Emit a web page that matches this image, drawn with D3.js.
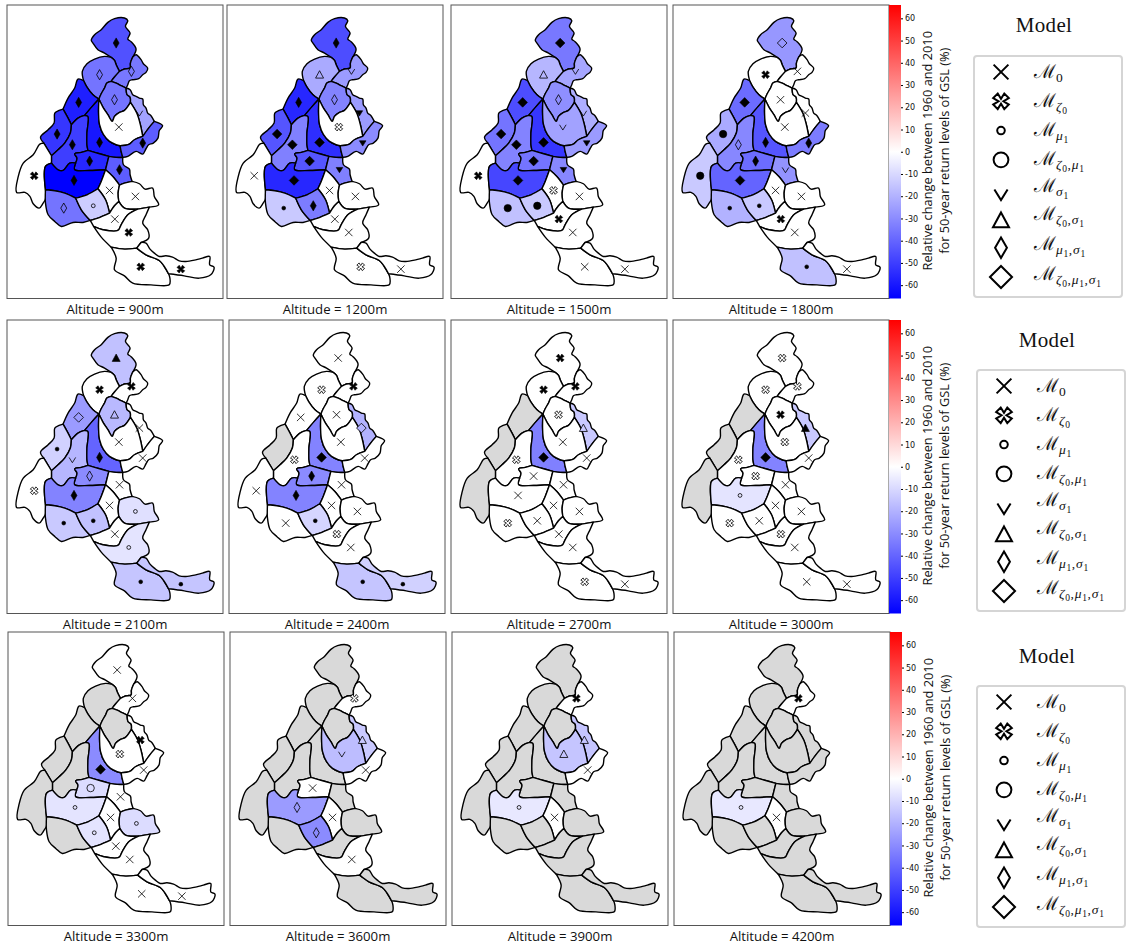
<!DOCTYPE html>
<html>
<head>
<meta charset="utf-8">
<style>
	body { margin: 0; background: #fff; }
	svg { display: block; }
	text { fill: #111; }
</style>
<script src="https://cdn.jsdelivr.net/npm/d3@7"></script>
</head>
<body>
<div id="res"></div>
<script>
/* massif borders, in map units, each shared border is stored once */
var borders = {
	chabFree: [[335,173],[315,160],[295,150],[280,130],[275,122],[285,105],[305,90],[325,68],[345,57],[375,55],[385,63],[378,80],[392,100],[385,118],[395,126],[410,148],[400,172]],
	chabAra: [[335,173],[345,182],[350,195],[360,215]],
	chabMb: [[400,172],[393,190],[392,205],[375,208],[360,215]],
	araFree: [[252,243],[248,215],[262,192],[285,178],[315,170],[335,173]],
	araBau: [[252,243],[262,262],[280,285],[298,298]],
	araMb: [[360,215],[345,232],[335,245]],
	araBea: [[335,245],[322,250],[315,265],[305,282],[298,298]],
	mbFree: [[400,172],[410,165],[425,180],[432,192],[445,205],[440,218],[430,225],[418,237],[400,240],[390,243],[385,255],[380,265]],
	mbBea: [[335,245],[350,250],[365,258],[380,265]],
	beaHt: [[380,265],[383,285],[392,292],[393,308]],
	beaVan: [[298,298],[310,322],[325,345],[338,365],[345,350],[360,338],[375,332],[393,308]],
	htFree: [[380,265],[392,270],[400,285],[410,290],[420,295],[430,298],[432,315],[440,325],[445,340],[455,348],[465,365]],
	htVan: [[393,308],[412,340],[423,375],[430,410]],
	htHm: [[465,365],[448,385],[430,410]],
	hmFree: [[465,365],[490,378],[480,392],[476,415],[462,430],[448,435],[440,447],[430,463],[410,455],[385,470],[370,473]],
	hmVan: [[430,410],[405,420],[388,434],[362,438]],
	hmMau: [[362,438],[365,455],[370,473]],
	vanMau: [[298,298],[297,340],[300,375],[312,405],[330,425],[350,435],[362,438]],
	bauMau: [[298,298],[278,320],[255,347]],
	belMau: [[255,347],[265,350],[262,400],[262,435],[265,452]],
	bauBel: [[255,347],[235,355],[215,375]],
	bauFree: [[252,243],[235,238],[225,265],[205,295],[190,328]],
	bauCha: [[190,328],[205,355],[215,375]],
	chaFree: [[190,328],[178,332],[165,340],[163,370],[145,390],[122,412],[132,430]],
	chaVer: [[132,430],[155,468]],
	chaBel: [[215,375],[212,400],[195,430],[175,450],[155,468]],
	belVer: [[155,468],[155,490]],
	belOis: [[155,490],[175,510],[190,512],[210,490],[228,490]],
	belGr: [[228,490],[232,475],[225,462],[245,458],[265,452]],
	grOis: [[228,490],[225,510],[270,512],[318,510]],
	grMau: [[265,452],[300,462],[328,470]],
	grTha: [[328,470],[318,510]],
	mauTha: [[328,470],[350,473],[370,473]],
	thaFree: [[370,473],[372,495],[390,508],[392,525],[398,545]],
	thaPel: [[318,510],[340,530],[360,556]],
	thaQue: [[360,556],[375,550],[398,545]],
	queFree: [[398,545],[420,552],[437,568],[460,565],[465,590],[478,615],[450,622]],
	queUby: [[415,628],[450,622]],
	quePar: [[358,605],[375,625],[415,628]],
	quePel: [[360,556],[356,580],[358,605]],
	pelPar: [[358,605],[345,618],[330,640]],
	pelCha: [[295,567],[318,600],[330,640]],
	pelOis: [[318,510],[305,545],[295,567]],
	oisCha: [[295,567],[262,585],[228,595]],
	oisDev: [[228,595],[195,580],[165,573],[137,570]],
	oisVer: [[155,490],[137,500],[137,570]],
	verFree: [[132,430],[120,433],[100,465],[70,490],[55,530],[50,578],[75,578],[90,590],[100,612],[118,625],[130,610],[137,598],[137,570]],
	devFree: [[137,570],[137,610],[145,645],[165,665],[185,680],[220,668],[250,668],[272,662]],
	devCha: [[228,595],[245,630],[272,662]],
	chaPar: [[272,662],[295,655],[330,640]],
	parFree: [[272,662],[282,680]],
	parUby: [[282,680],[310,690],[355,692],[365,675],[385,645],[415,628]],
	ubyFreeN: [[450,622],[440,645],[430,670],[445,690],[448,715],[425,728]],
	ubyFreeS: [[282,680],[305,712],[335,742]],
	ubyHv: [[335,742],[375,748],[412,745]],
	ubyMer: [[425,728],[412,745]],
	hvFree: [[335,742],[350,775],[345,810],[375,828],[400,850],[455,855],[510,855],[512,835],[508,822]],
	hvMer: [[412,745],[440,765],[480,782],[495,800],[508,822]],
	merFree: [[425,728],[440,730],[452,748],[465,760],[480,770],[500,768],[520,772],[540,783],[560,785],[590,780],[610,775],[632,770],[632,795],[645,802],[635,825],[600,835],[555,828],[508,822]]
};

var massifs = ["Chablais","Aravis","Mont-Blanc","Bauges","Beaufortain","Haute-Tarentaise","Chartreuse","Belledonne","Maurienne","Vanoise","Haute-Maurienne","Grandes-Rousses","Thabor","Vercors","Oisans","Pelvoux","Queyras","Devoluy","Champsaur","Parpaillon","Ubaye","Haut-Var","Mercantour"];

/* borders walked around each massif, "-" means walked backwards */
var massifRings = [
	["chabFree","chabMb","-chabAra"],
	["araFree","chabAra","araMb","araBea","-araBau"],
	["mbFree","-mbBea","-araMb","-chabMb"],
	["bauFree","bauCha","-bauBel","-bauMau","-araBau"],
	["-araBea","mbBea","beaHt","-beaVan"],
	["htFree","htHm","-htVan","-beaHt"],
	["chaFree","chaVer","-chaBel","-bauCha"],
	["bauBel","chaBel","belVer","belOis","belGr","-belMau"],
	["bauMau","belMau","grMau","mauTha","-hmMau","-vanMau"],
	["beaVan","htVan","hmVan","-vanMau"],
	["-htHm","hmFree","-hmMau","-hmVan"],
	["-belGr","grOis","-grTha","-grMau"],
	["mauTha","thaFree","-thaQue","-thaPel","-grTha"],
	["verFree","-oisVer","-belVer","-chaVer"],
	["oisVer","-oisDev","-oisCha","-pelOis","-grOis","-belOis"],
	["thaPel","quePel","pelPar","-pelCha","-pelOis"],
	["thaQue","queFree","-queUby","-quePar","-quePel"],
	["devFree","-devCha","oisDev"],
	["oisCha","devCha","chaPar","-pelCha"],
	["-chaPar","parFree","parUby","-quePar","pelPar"],
	["-parUby","ubyFreeS","ubyHv","-ubyMer","-ubyFreeN","-queUby"],
	["-ubyHv","hvFree","-hvMer"],
	["merFree","-hvMer","-ubyMer"]
];

var markerX = [350,300,396,237,345,420,172,218,300,358,430,270,360,103,223,330,408,192,281,346,388,424,545];
var markerY = [130,225,215,308,300,340,403,435,428,382,430,484,510,528,542,572,590,625,618,658,698,801,808];

var altitudes = [900,1200,1500,1800,2100,2400,2700,3000,3300,3600,3900,4200];

/* relative change in % per massif, null when the massif has no data (grey) */
var changes = [
	[-45,-36,-35,-58,-36,-24,-52,-50,-60,0,-42,-56,-42,0,-66,0,0,-36,-13,0,0,0,0],
	[-46,-22,-26,-56,-32,-26,-44,-33,-54,0,-30,-44,-33,0,-56,0,0,-14,-34,0,0,0,0],
	[-35,-19,-23,-46,-29,-21,-36,-32,-52,-24,-26,-36,-31,0,-48,0,0,-16,-14,0,0,0,0],
	[-27,0,0,-38,0,0,-22,-31,-44,0,-34,-38,-28,-14,-40,0,0,-20,-14,0,0,-16,0],
	[-16,0,0,-26,-18,0,-12,-19,-40,0,0,-30,0,0,-32,0,-8,-14,-16,0,-7,-15,-15],
	[0,0,0,0,0,-20,null,0,-32,0,0,-30,0,0,-32,0,0,0,-11,0,0,-15,-12],
	[0,0,0,null,0,-14,null,0,-33,0,0,0,0,null,0,0,0,0,0,0,0,0,0],
	[0,0,0,null,0,-14,null,0,-32,0,0,0,0,null,-7,0,0,0,0,0,0,0,0],
	[0,null,0,null,null,0,null,null,-30,0,0,-9,0,null,-7,0,-9,null,-7,0,0,0,0],
	[null,null,0,null,null,-14,null,null,null,-17,0,0,null,null,-26,0,null,null,-30,null,0,null,null],
	[null,null,0,null,null,-15,null,null,null,-15,0,null,null,null,-6,0,null,null,null,null,null,null,null],
	[null,null,0,null,null,null,null,null,null,null,null,null,null,null,-6,0,null,null,null,null,null,null,null]
];

/* selected model per massif, index into modelLabels */
var models = [
	[6,6,6,6,6,4,6,6,6,0,6,6,6,1,6,0,0,6,2,0,1,1,1],
	[6,5,4,6,6,4,7,7,7,1,4,7,4,0,7,0,0,2,6,0,0,1,0],
	[7,5,4,7,6,4,7,7,7,4,4,7,4,1,7,1,0,3,3,1,0,0,0],
	[7,1,0,7,0,0,3,6,6,0,6,6,4,3,7,0,0,2,2,1,0,2,0],
	[5,1,1,7,5,0,2,4,6,0,0,6,0,1,6,0,2,2,2,0,2,2,2],
	[0,1,1,0,0,7,0,1,7,0,0,6,0,0,6,0,0,0,2,1,0,2,2],
	[1,1,1,0,1,5,0,1,7,0,0,0,0,0,0,0,0,1,0,0,0,1,0],
	[1,1,1,0,1,5,0,1,7,1,0,1,0,0,2,0,0,1,0,1,0,0,0],
	[0,0,0,0,0,1,0,0,7,1,0,3,0,0,2,0,2,0,2,0,0,0,0],
	[0,0,1,0,0,5,0,0,0,4,0,0,0,0,6,0,0,0,6,0,0,0,0],
	[0,0,1,0,0,5,0,0,0,5,0,0,0,0,2,0,0,0,0,0,0,0,0],
	[0,0,1,0,0,0,0,0,0,0,0,0,0,0,2,0,0,0,0,0,0,0,0]
];

/* 1 when the marker is filled black */
var filled = [
	[1,0,0,1,0,0,1,1,1,0,1,1,1,1,1,0,0,0,0,0,1,1,1],
	[1,0,0,1,0,1,1,1,1,0,1,1,1,0,1,0,0,1,1,0,0,0,0],
	[1,0,0,1,0,0,1,1,1,0,1,1,1,1,1,0,0,1,1,1,0,0,0],
	[0,1,0,1,0,0,1,0,1,0,1,1,0,1,1,0,0,1,1,1,0,1,0],
	[1,1,1,0,0,0,1,0,1,0,0,0,0,0,1,0,0,1,1,0,0,1,1],
	[0,0,1,0,0,0,0,0,1,0,0,1,0,0,1,0,0,0,1,0,0,1,1],
	[1,1,1,0,0,0,0,0,1,0,0,0,0,0,0,0,0,0,0,0,0,0,0],
	[0,0,0,0,1,1,0,0,1,0,0,0,0,0,0,0,0,0,0,0,0,0,0],
	[0,0,0,0,0,1,0,0,1,0,0,0,0,0,0,0,0,0,0,0,0,0,0],
	[0,0,0,0,0,0,0,0,0,0,0,0,0,0,0,0,0,0,0,0,0,0,0],
	[0,0,1,0,0,0,0,0,0,0,0,0,0,0,0,0,0,0,0,0,0,0,0],
	[0,0,1,0,0,0,0,0,0,0,0,0,0,0,0,0,0,0,0,0,0,0,0]
];

var modelLabels = ["0","ζ_0","μ_1","ζ_0,μ_1","σ_1","ζ_0,σ_1","μ_1,σ_1","ζ_0,μ_1,σ_1"];
var colorbarTicks = [-60,-50,-40,-30,-20,-10,0,10,20,30,40,50,60];
var colorbarLines = ["Relative change between 1960 and 2010","for 50-year return levels of GSL (%)"];

/* size of the graphic and panels */
var width = 1133;
var height = 947;
var panelW = 216;
var panelH = 293.5;
var rowTop = [5, 320, 632];
var panelLeft = [[7,227,451,673],[7,229,451,673],[8,230,452,674]];
var legendLeft = [974, 977, 977];
var legendTop = [56, 370, 686];
var legendTitleX = [1044, 1047, 1047];
var legendTitleY = [32, 347, 663];
var noData = "#d9d9d9";

var svg = d3.select("#res").append("svg")
	.attr("width", width)
	.attr("height", height);

var color = d3.scaleLinear()
	.domain([-66, 0, 66])
	.range(["#0000ff", "#ffffff", "#ff0000"]);

/* marker shapes, size is the square of the half width */
function polygon(ctx, pts, close) {
	pts.forEach(function(p, i) {
		if (i == 0) ctx.moveTo(p[0], p[1]); else ctx.lineTo(p[0], p[1]);
	});
	if (close) ctx.closePath();
}
var shapes = [
	{ r: 3.7, draw: function(ctx, s) { var r = Math.sqrt(s); ctx.moveTo(-r,-r); ctx.lineTo(r,r); ctx.moveTo(-r,r); ctx.lineTo(r,-r); } },
	{ r: 3.9, draw: function(ctx, s) {
		var r = Math.sqrt(s), a = r * 0.42, b = r;
		polygon(ctx, [[-a,-b],[0,-a*0.75],[a,-b],[b,-a],[a*0.75,0],[b,a],[a,b],[0,a*0.75],[-a,b],[-b,a],[-a*0.75,0],[-b,-a]], true);
	} },
	{ r: 1.9, draw: function(ctx, s) { var r = Math.sqrt(s); ctx.moveTo(r,0); ctx.arc(0,0,r,0,2*Math.PI); } },
	{ r: 3.7, draw: function(ctx, s) { var r = Math.sqrt(s); ctx.moveTo(r,0); ctx.arc(0,0,r,0,2*Math.PI); } },
	{ r: 3.3, draw: function(ctx, s) { var r = Math.sqrt(s); polygon(ctx, [[-r,-r*0.7],[0,r*0.9],[r,-r*0.7]], false); } },
	{ r: 4, draw: function(ctx, s) { var r = Math.sqrt(s); polygon(ctx, [[0,-r],[r,r*0.85],[-r,r*0.85]], true); } },
	{ r: 5.1, draw: function(ctx, s) { var r = Math.sqrt(s); polygon(ctx, [[0,-r],[r*0.58,0],[0,r],[-r*0.58,0]], true); } },
	{ r: 4.8, draw: function(ctx, s) { var r = Math.sqrt(s); polygon(ctx, [[0,-r],[r,0],[0,r],[-r,0]], true); } }
];

function marker(i, scale) {
	return d3.symbol().type(shapes[i]).size(Math.pow(shapes[i].r * scale, 2))();
}

/* join the smoothed borders of a massif, corners stay sharp where borders meet */
function ringPath(ring, line) {
	var d = "";
	ring.forEach(function(key, i) {
		var back = key[0] == "-";
		var part = borders[back ? key.slice(1) : key].slice();
		if (back) part.reverse();
		var seg = line(part);
		d += i == 0 ? seg : "L" + seg.slice(1);
	});
	return d + "Z";
}

function renderPanel(index, left, top) {
	var x = d3.scaleLinear().domain([21, 672]).range([left, left + panelW]);
	var y = d3.scaleLinear().domain([16, 896]).range([top, top + panelH]);
	var line = d3.line()
		.x(function(d) { return x(d[0]); })
		.y(function(d) { return y(d[1]); })
		.curve(d3.curveCatmullRom.alpha(0.5));

	var g = svg.append("g").attr("class", "panel");

	g.append("rect")
		.attr("x", left).attr("y", top)
		.attr("width", panelW).attr("height", panelH)
		.attr("fill", "#fff").attr("stroke", "#555").attr("stroke-width", 1);

	g.selectAll("path.massif")
		.data(massifs)
		.enter().append("path")
		.attr("class", "massif")
		.attr("d", function(d, i) { return ringPath(massifRings[i], line); })
		.attr("fill", function(d, i) {
			var v = changes[index][i];
			return v === null ? noData : color(v);
		})
		.attr("stroke", "#000")
		.attr("stroke-width", 1.4)
		.attr("stroke-linejoin", "round");

	massifs.forEach(function(name, i) {
		if (changes[index][i] === null) return;
		var m = models[index][i];
		var isFilled = filled[index][i] == 1;
		var d = marker(m, 1);
		if (m == 4 && isFilled) d += "Z";
		g.append("path")
			.attr("d", d)
			.attr("transform", "translate(" + x(markerX[i]) + "," + y(markerY[i]) + ")")
			.attr("fill", isFilled ? "#000" : (m == 0 || m == 4 ? "none" : color(changes[index][i])))
			.attr("stroke", "#000")
			.attr("stroke-width", isFilled && m != 0 ? 0.6 : 0.8);
	});

	g.append("text")
		.attr("x", left + panelW / 2)
		.attr("y", top + panelH + 15)
		.attr("text-anchor", "middle")
		.style("font-family", "'Open Sans', sans-serif")
		.style("font-size", "13.2px")
		.text("Altitude = " + altitudes[index] + "m");
}

function renderColorbar(row, left, top) {
	var barW = 12;
	var id = "bar" + row;
	var grad = svg.append("defs").append("linearGradient")
		.attr("id", id)
		.attr("x1", 0).attr("x2", 0).attr("y1", 1).attr("y2", 0);
	color.domain().forEach(function(v) {
		grad.append("stop")
			.attr("offset", (v + 66) / 132)
			.attr("stop-color", color(v));
	});
	svg.append("rect")
		.attr("x", left).attr("y", top)
		.attr("width", barW).attr("height", panelH)
		.attr("fill", "url(#" + id + ")");

	var scale = d3.scaleLinear().domain([-66, 66]).range([top + panelH, top]);
	var axis = svg.append("g")
		.attr("transform", "translate(" + (left + barW) + ",0)")
		.call(d3.axisRight(scale).tickValues(colorbarTicks).tickSize(2).tickPadding(2).tickFormat(function(d) { return d; }));
	axis.select(".domain").remove();
	axis.selectAll("text")
		.style("font-family", "'DejaVu Sans', sans-serif")
		.style("font-size", "8px")
		.attr("fill", "#222");

	colorbarLines.forEach(function(txt, i) {
		var px = left + 40 + i * 17;
		var py = top + panelH / 2 - 1;
		svg.append("text")
			.attr("transform", "translate(" + px + "," + py + ") rotate(-90)")
			.attr("text-anchor", "middle")
			.attr("dominant-baseline", "middle")
			.style("font-family", "'Open Sans', sans-serif")
			.style("font-size", "12.8px")
			.text(txt);
	});
}

function renderLegend(row) {
	var left = legendLeft[row];
	var top = legendTop[row];
	svg.append("text")
		.attr("x", legendTitleX[row])
		.attr("y", legendTitleY[row])
		.attr("text-anchor", "middle")
		.style("font-family", "'Liberation Serif', serif")
		.style("font-size", "21px")
		.style("letter-spacing", "0.3px")
		.text("Model");

	svg.append("rect")
		.attr("x", left).attr("y", top)
		.attr("width", 148).attr("height", 241)
		.attr("rx", 3)
		.attr("fill", "#fff")
		.attr("stroke", "#d5d5d5")
		.attr("stroke-width", 2);

	var rows = d3.scaleLinear().domain([0, 7]).range([top + 16, top + 221]);
	var baseline = [22, 51, 80, 109, 136, 164, 194, 224];
	modelLabels.forEach(function(label, i) {
		var shift = i == 4 ? 5 : (i == 5 ? 2 : 0);
		svg.append("path")
			.attr("d", marker(i, i == 7 ? 2.3 : 2))
			.attr("transform", "translate(" + (left + 27) + "," + (rows(i) + shift) + ")")
			.attr("fill", "none")
			.attr("stroke", "#000")
			.attr("stroke-width", 2);

		var t = svg.append("text")
			.attr("x", left + 60)
			.attr("y", top + baseline[i])
			.style("font-family", "'DejaVu Serif', serif")
			.style("font-size", "19px");
		t.append("tspan").text("ℳ");

		/* subscripts, a character after "_" goes one level lower */
		var level = 0;
		var chars = label.split("");
		for (var c = 0; c < chars.length; c++) {
			if (chars[c] == "_") continue;
			var nested = chars[c - 1] == "_";
			var want = nested ? 6.5 : 4;
			var isDigit = /[0-9]/.test(chars[c]);
			t.append("tspan")
				.attr("dy", want - level)
				.attr("dx", chars[c] == "," ? 0.5 : (c == 0 ? 0 : 0.8))
				.style("font-family", "'Liberation Serif', serif")
				.style("font-style", isDigit || chars[c] == "," ? "normal" : "italic")
				.style("font-size", nested ? "9.5px" : "13.5px")
				.text(chars[c]);
			level = want;
		}
	});
}

/* draw everything, four panels on each of the three rows */
altitudes.forEach(function(a, i) {
	var row = Math.floor(i / 4);
	renderPanel(i, panelLeft[row][i % 4], rowTop[row]);
});
rowTop.forEach(function(top, row) {
	renderColorbar(row, panelLeft[row][3] + panelW, top);
	renderLegend(row);
});
</script>
</body>
</html>
